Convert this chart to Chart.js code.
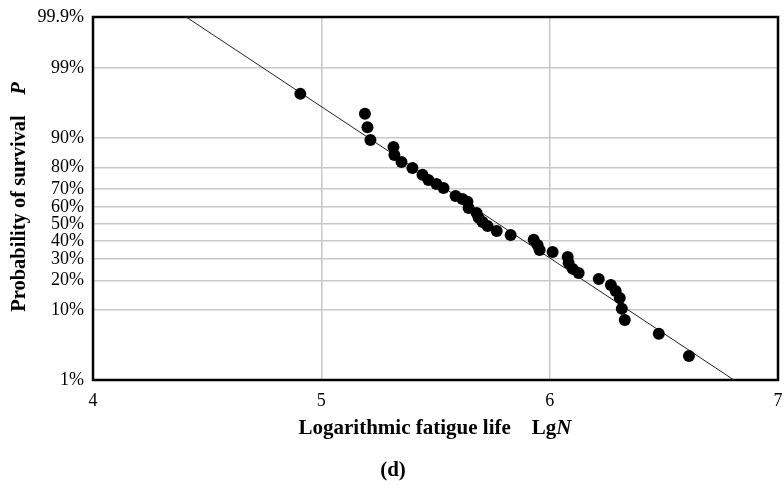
<!DOCTYPE html>
<html>
<head>
<meta charset="utf-8">
<script src="https://cdn.jsdelivr.net/npm/chart.js@4.4.1/dist/chart.umd.min.js"></script>
<style>
  html, body { margin: 0; padding: 0; background: #ffffff; }
  #wrap { width: 784px; height: 493px; }
</style>
</head>
<body>
<div id="wrap"><canvas id="c" width="784" height="493"></canvas></div>
<script>
// ---- data ----
const lgN = [4.908, 5.191, 5.202, 5.215, 5.316, 5.320, 5.351, 5.399, 5.443, 5.469,
             5.504, 5.535, 5.588, 5.618, 5.640, 5.645, 5.680, 5.689, 5.706, 5.728,
             5.768, 5.829, 5.930, 5.947, 5.956, 6.013, 6.079, 6.083, 6.101, 6.127,
             6.215, 6.268, 6.289, 6.307, 6.316, 6.329, 6.478, 6.610];
const survivalPct = [97.4, 95.0, 92.6, 89.5, 87.5, 84.9, 82.3, 79.9, 76.9, 74.5,
                     72.5, 70.5, 66.3, 64.6, 63.0, 59.5, 56.6, 53.7, 51.3, 48.9,
                     45.9, 43.6, 40.7, 37.8, 35.0, 33.9, 31.2, 28.1, 25.2, 23.3,
                     20.6, 18.2, 15.9, 13.5, 10.3, 7.6, 5.1, 2.45];
const fitLineX = [4.408, 6.807];
const fitLineP = [99.9, 1];
const xTicks = [4, 5, 6, 7];
const yTickPct = [1, 10, 20, 30, 40, 50, 60, 70, 80, 90, 99, 99.9];
const yTickLabels = ['1%', '10%', '20%', '30%', '40%', '50%', '60%', '70%', '80%', '90%', '99%', '99.9%'];

// ---- inverse standard normal (normal probability paper) ----
function probit(p) {
  const a = [-3.969683028665376e+01, 2.209460984245205e+02, -2.759285104469687e+02,
             1.383577518672690e+02, -3.066479806614716e+01, 2.506628277459239e+00];
  const b = [-5.447609879822406e+01, 1.615858368580409e+02, -1.556989798598866e+02,
             6.680131188771972e+01, -1.328068155288572e+01];
  const c = [-7.784894002430293e-03, -3.223964580411365e-01, -2.400758277161838e+00,
             -2.549732539343734e+00, 4.374664141464968e+00, 2.938163982698783e+00];
  const d = [7.784695709041462e-03, 3.224671290700398e-01, 2.445134137142996e+00,
             3.754408661907416e+00];
  const pl = 0.02425, ph = 1 - pl;
  let q, r;
  if (p < pl) {
    q = Math.sqrt(-2 * Math.log(p));
    return (((((c[0]*q+c[1])*q+c[2])*q+c[3])*q+c[4])*q+c[5]) /
           ((((d[0]*q+d[1])*q+d[2])*q+d[3])*q+1);
  } else if (p <= ph) {
    q = p - 0.5; r = q * q;
    return (((((a[0]*r+a[1])*r+a[2])*r+a[3])*r+a[4])*r+a[5])*q /
           (((((b[0]*r+b[1])*r+b[2])*r+b[3])*r+b[4])*r+1);
  } else {
    q = Math.sqrt(-2 * Math.log(1 - p));
    return -(((((c[0]*q+c[1])*q+c[2])*q+c[3])*q+c[4])*q+c[5]) /
            ((((d[0]*q+d[1])*q+d[2])*q+d[3])*q+1);
  }
}
const z = pct => probit(pct / 100);

const pointData = lgN.map((x, i) => ({ x: x, y: z(survivalPct[i]) }));
const lineData = fitLineX.map((x, i) => ({ x: x, y: z(fitLineP[i]) }));
const yTickZ = yTickPct.map(z);

const SERIF = '"Liberation Serif", "Times New Roman", serif';

const decor = {
  id: 'decor',
  beforeDatasetsDraw(chart) {
    const { ctx, chartArea: a } = chart;
    ctx.save();
    ctx.strokeStyle = '#000';
    ctx.lineWidth = 2.5;
    ctx.strokeRect(a.left, a.top, a.right - a.left, a.bottom - a.top);
    ctx.restore();
  },
  afterDraw(chart) {
    const ctx = chart.ctx;
    ctx.save();
    ctx.fillStyle = '#000';
    ctx.textBaseline = 'middle';
    const segsX = [
      { t: 'Logarithmic fatigue life', f: 'bold 21px ' + SERIF },
      { t: '\u00a0\u00a0\u00a0\u00a0Lg', f: 'bold 21px ' + SERIF },
      { t: 'N', f: 'italic bold 21px ' + SERIF }
    ];
    drawSegs(ctx, segsX, 435, 429, 0);
    const segsY = [
      { t: 'Probability of survival', f: 'bold 20.5px ' + SERIF },
      { t: '\u00a0\u00a0\u00a0\u00a0', f: 'bold 20.5px ' + SERIF },
      { t: 'P', f: 'italic bold 20.5px ' + SERIF }
    ];
    drawSegs(ctx, segsY, 20, 197, -Math.PI / 2);
    ctx.font = 'bold 21px ' + SERIF;
    ctx.textAlign = 'center';
    ctx.fillText('(d)', 393, 471);
    ctx.restore();
  }
};
function drawSegs(ctx, segs, cx, cy, rot) {
  let total = 0;
  segs.forEach(s => { ctx.font = s.f; s.w = ctx.measureText(s.t).width; total += s.w; });
  ctx.save();
  ctx.translate(cx, cy);
  ctx.rotate(rot);
  ctx.textAlign = 'left';
  let x = -total / 2;
  segs.forEach(s => { ctx.font = s.f; ctx.fillText(s.t, x, 0); x += s.w; });
  ctx.restore();
}

new Chart(document.getElementById('c'), {
  type: 'scatter',
  data: {
    datasets: [
      {
        label: 'fit',
        data: lineData,
        showLine: true,
        borderColor: '#222',
        borderWidth: 1,
        pointRadius: 0,
        order: 2
      },
      {
        label: 'samples',
        data: pointData,
        backgroundColor: '#000',
        borderWidth: 0,
        pointRadius: 6,
        order: 1
      }
    ]
  },
  options: {
    responsive: false,
    animation: false,
    devicePixelRatio: 1,
    layout: { padding: { left: 0, right: 0, top: 17, bottom: 0 } },
    plugins: { legend: { display: false }, tooltip: { enabled: false } },
    scales: {
      x: {
        type: 'linear',
        min: 4, max: 7,
        afterBuildTicks: axis => { axis.ticks = xTicks.map(v => ({ value: v })); },
        afterFit: axis => { axis.height = 113; axis.paddingRight = 5; axis.paddingLeft = 0; },
        grid: { color: '#c8c8c8', lineWidth: 1.5, drawTicks: false },
        border: { display: false },
        ticks: { color: '#000', font: { family: SERIF, size: 18 }, padding: 10 }
      },
      y: {
        type: 'linear',
        min: yTickZ[0], max: yTickZ[yTickZ.length - 1],
        afterBuildTicks: axis => { axis.ticks = yTickZ.map(v => ({ value: v })); },
        afterFit: axis => { axis.width = 93; axis.paddingTop = 0; axis.paddingBottom = 0; },
        grid: { color: '#c8c8c8', lineWidth: 1.5, drawTicks: false },
        border: { display: false },
        ticks: {
          color: '#000', font: { family: SERIF, size: 18 }, padding: 9,
          autoSkip: false,
          callback: (v, i) => yTickLabels[i]
        }
      }
    }
  },
  plugins: [decor]
});
</script>
</body>
</html>
